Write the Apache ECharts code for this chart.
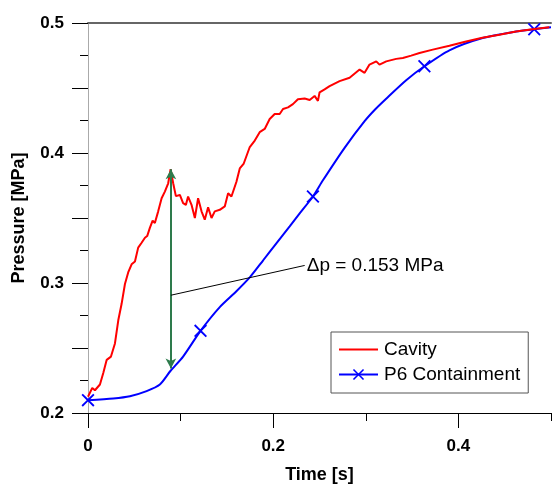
<!DOCTYPE html>
<html>
<head>
<meta charset="utf-8">
<script src="https://cdn.jsdelivr.net/npm/echarts@6/dist/echarts.min.js"></script>
<style>html,body{margin:0;padding:0;background:#fff;}#c{width:552px;height:489px;}</style>
</head>
<body>
<div id="c"></div>
<script>
// ---- data ----
const seriesNames = ['Cavity', 'P6 Containment'];
const redX = [0,0.0046,0.0075,0.0129,0.0165,0.0202,0.0248,0.0291,0.0327,0.0363,0.0399,0.0434,0.0471,0.0507,0.0542,0.0579,0.0615,0.0639,0.0668,0.0698,0.0722,0.0758,0.0795,0.0830,0.0866,0.0892,0.0920,0.0949,0.0992,0.1027,0.1057,0.1081,0.1118,0.1154,0.1189,0.1226,0.1261,0.1297,0.1334,0.1369,0.1423,0.1477,0.1513,0.1549,0.1603,0.1639,0.1682,0.1747,0.1801,0.1854,0.1908,0.1962,0.2016,0.2070,0.2106,0.2160,0.2213,0.2267,0.2340,0.2394,0.2447,0.2483,0.2501,0.2555,0.2609,0.2717,0.2825,0.2933,0.2987,0.3040,0.3113,0.3148,0.3221,0.3328,0.3400,0.3490,0.3580,0.3723,0.3903,0.4083,0.4259,0.4442,0.4622,0.4819,0.4981];
const redY = [0.2125,0.2193,0.2175,0.2219,0.2307,0.2409,0.2434,0.2535,0.2713,0.2840,0.2992,0.3081,0.3144,0.3165,0.3272,0.3310,0.3348,0.3361,0.3424,0.3479,0.3462,0.3551,0.3652,0.3703,0.3767,0.3875,0.3767,0.3668,0.3677,0.3614,0.3601,0.3665,0.3601,0.3500,0.3652,0.3551,0.3487,0.3582,0.3500,0.3551,0.3563,0.3589,0.3690,0.3665,0.3779,0.3881,0.3919,0.4046,0.4096,0.4160,0.4185,0.4261,0.4300,0.4300,0.4338,0.4351,0.4376,0.4414,0.4419,0.4408,0.4439,0.4401,0.4467,0.4490,0.4515,0.4553,0.4579,0.4642,0.4617,0.4680,0.4705,0.4680,0.4705,0.4724,0.4731,0.4749,0.4769,0.4795,0.4825,0.4858,0.4886,0.4909,0.4934,0.4954,0.4967];
const blueX = [0,0.0273,0.0453,0.0633,0.0776,0.0892,0.1027,0.1215,0.1423,0.1600,0.1747,0.1890,0.2034,0.2178,0.2286,0.2429,0.2537,0.2771,0.2987,0.3100,0.3220,0.3436,0.3633,0.3903,0.4262,0.4622,0.4819,0.5];
const blueY = [0.2099,0.2112,0.2129,0.2168,0.2219,0.2325,0.2434,0.2632,0.2815,0.2935,0.3043,0.3173,0.3305,0.3436,0.3535,0.3665,0.3790,0.4040,0.4245,0.4335,0.4418,0.4560,0.4667,0.4790,0.4884,0.4934,0.4952,0.4967];
const blueMarkerIdx = [0, 7, 15, 22, 26];
const xMajorTicks = [0, 0.2, 0.4];
const xMinorTicks = [0.1, 0.3, 0.5];
const yLabels = [0.2, 0.3, 0.4, 0.5];
const arrowX = 0.0895, arrowLow = 0.2343, arrowHigh = 0.3875;
const leaderStart = [0.0895, 0.2906];
const leaderEnd = [0.234, 0.3135];
const deltaText = 'Δp = 0.153 MPa';

const FONT = "'Liberation Sans', Arial, sans-serif";
const cross = 'path://M0,1.4L1.4,0L7,5.6L12.6,0L14,1.4L8.4,7L14,12.6L12.6,14L7,8.4L1.4,14L0,12.6L5.6,7Z';
const lineIcon = 'path://M0,0H40V2H0Z';

const redData = redX.map((x, i) => [x, redY[i]]);
const blueData = blueX.map((x, i) => blueMarkerIdx.includes(i) ? {value: [x, blueY[i]]} : {value: [x, blueY[i]], symbol: 'none'});

const chart = echarts.init(document.getElementById('c'), null, {renderer: 'canvas'});
const option = {
  animation: false,
  backgroundColor: '#fff',
  textStyle: {fontFamily: FONT},
  grid: {left: 88, top: 23, width: 463, height: 394},
  legend: {
    data: [{name: seriesNames[0], icon: lineIcon}, seriesNames[1]],
    orient: 'vertical',
    left: 331, top: 332,
    padding: [8, 8, 9, 7],
    itemGap: 6,
    itemWidth: 39, itemHeight: 14,
    borderColor: '#555', borderWidth: 1,
    backgroundColor: '#fff',
    textStyle: {fontFamily: FONT, fontSize: 19, color: '#000', padding: [0,0,0,1]}
  },
  xAxis: [
    {type: 'value', min: 0, max: 0.5, position: 'bottom',
     name: 'Time [s]', nameLocation: 'middle', nameGap: 53,
     nameTextStyle: {fontFamily: FONT, fontSize: 18, fontWeight: 'bold', color: '#000'},
     axisLine: {show: true, lineStyle: {color: '#000', width: 1}},
     axisTick: {show: true, length: 15, customValues: xMajorTicks, lineStyle: {color: '#000'}},
     axisLabel: {show: true, customValues: xMajorTicks, margin: 25, fontFamily: FONT, fontSize: 17, fontWeight: 'bold', color: '#000',
       formatter: v => String(Math.round(v * 10) / 10)},
     splitLine: {show: false}},
    {type: 'value', min: 0, max: 0.5, position: 'bottom',
     axisLine: {show: true, lineStyle: {color: '#000', width: 1}},
     axisTick: {show: true, length: 8, customValues: xMinorTicks, lineStyle: {color: '#000'}},
     axisLabel: {show: false}, splitLine: {show: false}},
    {type: 'value', min: 0, max: 0.5, position: 'top',
     axisLine: {show: true, lineStyle: {color: '#666', width: 2}},
     axisTick: {show: false}, axisLabel: {show: false}, splitLine: {show: false}}
  ],
  yAxis: [
    {type: 'value', min: 0.2, max: 0.5, interval: 0.05, position: 'left',
     name: 'Pressure [MPa]', nameLocation: 'middle', nameGap: 60,
     nameTextStyle: {fontFamily: FONT, fontSize: 18, fontWeight: 'bold', color: '#000'},
     axisLine: {show: true, lineStyle: {color: '#000', width: 1}},
     axisTick: {show: true, length: 16, lineStyle: {color: '#000'}},
     minorTick: {show: true, splitNumber: 2, length: 8, lineStyle: {color: '#000'}},
     axisLabel: {margin: 24, fontFamily: FONT, fontSize: 17, fontWeight: 'bold', color: '#000',
       formatter: v => yLabels.some(l => Math.abs(l - v) < 1e-6) ? (Math.round(v * 10) / 10).toFixed(1) : ''},
     splitLine: {show: false}, minorSplitLine: {show: false}},
    {type: 'value', min: 0.2, max: 0.5, position: 'right',
     axisLine: {show: true, lineStyle: {color: '#aaa', width: 1}},
     axisTick: {show: false}, axisLabel: {show: false}, splitLine: {show: false}}
  ],
  series: [
    {name: seriesNames[0], type: 'line', xAxisIndex: 0, yAxisIndex: 0, z: 4,
     data: redData, symbol: 'none',
     lineStyle: {color: '#ff0000', width: 2}, itemStyle: {color: '#ff0000'}},
    {name: seriesNames[1], type: 'line', xAxisIndex: 0, yAxisIndex: 0, z: 3,
     data: blueData, smooth: 0.25, symbol: cross, symbolSize: 13, showSymbol: true,
     lineStyle: {color: '#0000ff', width: 2}, itemStyle: {color: '#0000ff'}},
    {name: 'annotation', type: 'line', xAxisIndex: 0, yAxisIndex: 0, z: 6, data: [],
     markLine: {
       silent: true, animation: false,
       data: [
         [{coord: [arrowX, arrowLow], symbol: 'arrow', symbolSize: [8, 10], lineStyle: {color: '#2e7b4c', width: 2, type: 'solid'}},
          {coord: [arrowX, arrowHigh], symbol: 'arrow', symbolSize: [8, 10]}],
         [{coord: leaderStart, symbol: 'none', lineStyle: {color: '#000', width: 1, type: 'solid'}},
          {coord: leaderEnd, symbol: 'none'}]
       ],
       label: {show: false}
     },
     markPoint: {
       silent: true,
       data: [{coord: leaderEnd, symbol: 'circle', symbolSize: 0,
         label: {show: true, position: 'right', distance: 2, formatter: deltaText,
           fontFamily: FONT, fontSize: 19, color: '#000'}}]
     }}
  ]
};
chart.setOption(option);
</script>
</body>
</html>
